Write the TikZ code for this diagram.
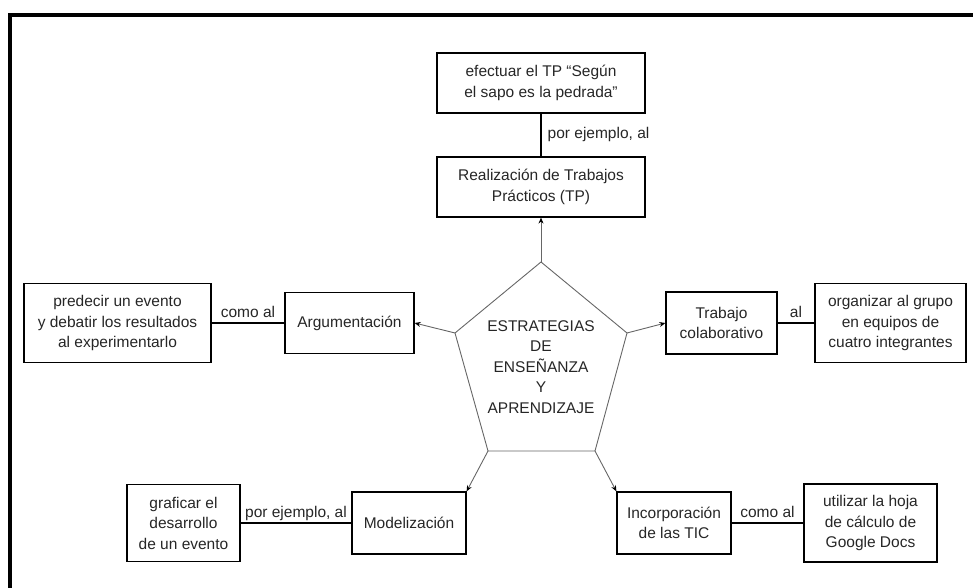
\documentclass[tikz,border=0pt]{standalone}
\usepackage{fontspec}
\setmainfont{Liberation Sans}
\usetikzlibrary{arrows.meta,calc}

\begin{document}
\begin{tikzpicture}[x=1pt, y=1pt,
  every node/.style={font=\fontsize{15.5}{20.5}\selectfont, text=black!85},
  box/.style={draw=black, line width=1.2pt, align=center, inner sep=0pt},
  link/.style={draw=black, line width=1.4pt},
  branch/.style={draw=black!60, line width=0.9pt, -{Stealth[black, length=6pt, width=5pt]}},
  tag/.style={anchor=base, yshift=5pt}]
  \useasboundingbox (0,0) rectangle (973,588);
  \draw[line width=4pt] (10,0) -- (10,573) -- (973,573);

  % pentagono
  \coordinate (pt) at (541,326);
  \coordinate (pr) at (627,255);
  \coordinate (pbr) at (595,137);
  \coordinate (pbl) at (488,137);
  \coordinate (pl) at (455,255);
  \draw[black!60, line width=0.9pt] (pt) -- (pr) -- (pbr) -- (pbl) -- (pl) -- cycle;
  \node[align=center] (core) at (541,221) {ESTRATEGIAS\\DE\\ENSEÑANZA\\Y\\APRENDIZAJE};

  \node[box, minimum width=208pt, minimum height=60pt] (sapo) at (541,505) {efectuar el TP “Según\\el sapo es la pedrada”};
  \node[box, minimum width=208pt, minimum height=60pt] (tp) at (541,401) {Realización de Trabajos\\Prácticos (TP)};
  \node[box, minimum width=129pt, minimum height=61pt] (arg) at (349.5,265) {Argumentación};
  \node[box, minimum width=187pt, minimum height=79pt] (pred) at (117.5,265) {predecir un evento\\y debatir los resultados\\al experimentarlo};
  \node[box, minimum width=111pt, minimum height=62pt] (trab) at (721.5,265) {Trabajo\\colaborativo};
  \node[box, minimum width=151pt, minimum height=79pt] (org) at (890.5,265) {organizar al grupo\\en equipos de\\cuatro integrantes};
  \node[box, minimum width=114pt, minimum height=62pt] (mod) at (409,65) {Modelización};
  \node[box, minimum width=113pt, minimum height=77pt] (graf) at (183.5,65) {graficar el\\desarrollo\\de un evento};
  \node[box, minimum width=114pt, minimum height=62pt] (tic) at (674,65) {Incorporación\\de las TIC};
  \node[box, minimum width=133pt, minimum height=78pt] (util) at (870.5,65) {utilizar la hoja\\de cálculo de\\Google Docs};

  \draw[link] (sapo) -- (tp) node[midway, right, inner sep=6pt] {por ejemplo, al};
  \foreach \a/\b/\t in {pred/arg/{como al}, trab/org/{al}, graf/mod/{por ejemplo, al}, tic/util/{como al}}
  {
  \draw[link] (\a) -- (\b) node[tag, midway] {\t};
  }

  \foreach \v/\b in {pt/tp.south, pl/arg.east, pr/trab.west, pbl/mod.north east, pbr/tic.north west}
  {
  \draw[branch] (\v) -- (\b);
  }
\end{tikzpicture}
\end{document}
